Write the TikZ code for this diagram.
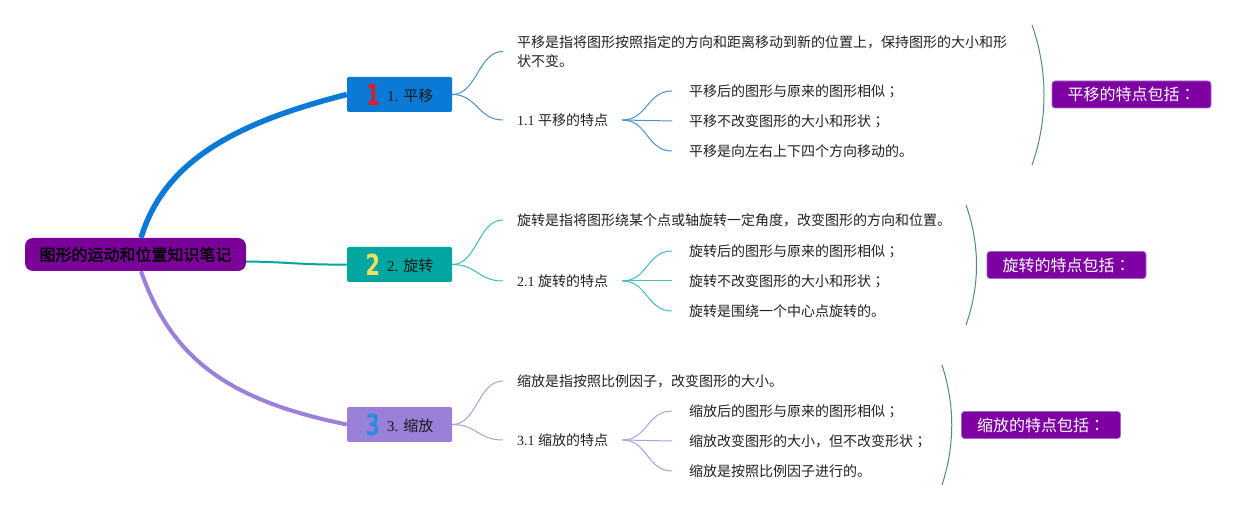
\documentclass[tikz,border=0pt]{standalone}
\usepackage{fontspec}
\setmainfont{Noto Sans CJK SC}
\newfontfamily\latserif{Liberation Serif}
\newfontfamily\rootfont[FakeBold=2]{Noto Sans CJK SC}
\newfontfamily\iconfont{DejaVu Sans}
\newfontfamily\tcpunct{Noto Sans CJK TC}
\newcommand\semi{{\tcpunct ；}}
\newcommand\colo{{\tcpunct ：}}
\definecolor{rootpurple}{HTML}{7B0099}
\definecolor{sumpurple}{HTML}{7E00A3}
\definecolor{sumedge}{HTML}{9B6CC0}
\definecolor{b1blue}{HTML}{0A7AD6}
\definecolor{b2teal}{HTML}{00A69F}
\definecolor{b3lav}{HTML}{9A80D8}
\definecolor{icon1}{HTML}{D81E2C}
\definecolor{icon2}{HTML}{F2E15A}
\definecolor{icon3}{HTML}{2E8DE0}
\definecolor{sub1}{HTML}{4A90D0}
\definecolor{sub2}{HTML}{40BDB8}
\definecolor{sub3}{HTML}{ABA0DC}
\definecolor{bracecol}{HTML}{4F8C7E}
\newcommand\bicon[2]{\raisebox{-4pt}{\color{#1}\iconfont\bfseries\fontsize{29}{29}\selectfont\scalebox{0.72}[1]{#2}}}
\begin{document}
\begin{tikzpicture}[x=1pt,y=-1pt,
  txt/.style={anchor=west,inner sep=0pt,align=left,font=\fontsize{14}{19}\selectfont,text=black!87},
  branchbox/.style={minimum width=105pt,minimum height=35pt,inner sep=0pt,rounded corners=1.5pt,font=\fontsize{15}{18}\selectfont,text=black!90},
  sumbox/.style={fill=sumpurple,draw=sumedge,line width=0.8pt,rounded corners=3pt,minimum width=159pt,minimum height=27pt,inner sep=0pt,text=white,font=\fontsize{16}{18}\selectfont},
  con/.style={line width=1pt},
  bracket/.style={draw=bracecol,line width=1pt}]
\useasboundingbox (0,0) rectangle (1256,510);
\fill[white] (0,0) rectangle (1256,510);

% root
\node[fill=rootpurple,rounded corners=8pt,minimum width=221pt,minimum height=33pt,inner sep=0pt,font={\rootfont\fontsize{16}{18}\selectfont},text=black] (root) at (135.5,254.5) {图形的运动和位置知识笔记};

% branch boxes
\node[branchbox,fill=b1blue] (b1) at (399.5,94.5) {\bicon{icon1}{1}\hspace{7pt}{\latserif 1. }平移};
\node[branchbox,fill=b2teal] (b2) at (399.5,264.5) {\bicon{icon2}{2}\hspace{7pt}{\latserif 2. }旋转};
\node[branchbox,fill=b3lav] (b3) at (399.5,424.5) {\bicon{icon3}{3}\hspace{7pt}{\latserif 3. }缩放};

% main connectors
\draw[b1blue,line width=5.5pt] ([xshift=5.5pt]root.north) .. controls (163,166) and (226,125) .. (b1.west);
\draw[b2teal,line width=2pt] ([yshift=-7pt]root.east) .. controls (290,262) and (300,265) .. (b2.west);
\draw[b3lav,line width=4pt] ([xshift=5.5pt]root.south) .. controls (171,357) and (226,400) .. (b3.west);

% branch 1
\node[txt] (d1) at (517,51.5) {平移是指将图形按照指定的方向和距离移动到新的位置上，保持图形的大小和形\\状不变。};
\node[txt] (c1) at (517,120) {{\latserif 1.1 }平移的特点};
\node[txt] (c1a) at (689,91) {平移后的图形与原来的图形相似\semi};
\node[txt] (c1b) at (689,121) {平移不改变图形的大小和形状\semi};
\node[txt] (c1c) at (689,151) {平移是向左右上下四个方向移动的。};
\draw[con,sub1] (b1.east) .. controls +(25,0) and +(-25,0) .. ([xshift=-14pt]d1.west);
\draw[con,sub1] (b1.east) .. controls +(25,0) and +(-25,0) .. ([xshift=-14pt]c1.west);
\draw[con,sub1] ([xshift=14pt]c1.east) .. controls +(25,0) and +(-25,0) .. ([xshift=-17pt]c1a.west);
\draw[con,sub1] ([xshift=14pt]c1.east) -- ([xshift=-17pt]c1b.west);
\draw[con,sub1] ([xshift=14pt]c1.east) .. controls +(25,0) and +(-25,0) .. ([xshift=-17pt]c1c.west);
\draw[bracket] (1032,25) .. controls (1048,70) and (1048,120) .. (1032,165);
\node[sumbox] (s1) at (1131.5,94.5) {平移的特点包括\colo};

% branch 2
\node[txt] (d2) at (517,220) {旋转是指将图形绕某个点或轴旋转一定角度，改变图形的方向和位置。};
\node[txt] (c2) at (517,281) {{\latserif 2.1 }旋转的特点};
\node[txt] (c2a) at (689,251) {旋转后的图形与原来的图形相似\semi};
\node[txt] (c2b) at (689,281) {旋转不改变图形的大小和形状\semi};
\node[txt] (c2c) at (689,311) {旋转是围绕一个中心点旋转的。};
\draw[con,sub2] (b2.east) .. controls +(25,0) and +(-25,0) .. ([xshift=-14pt]d2.west);
\draw[con,sub2] (b2.east) .. controls +(25,0) and +(-25,0) .. ([xshift=-14pt]c2.west);
\draw[con,sub2] ([xshift=14pt]c2.east) .. controls +(25,0) and +(-25,0) .. ([xshift=-17pt]c2a.west);
\draw[con,sub2] ([xshift=14pt]c2.east) -- ([xshift=-17pt]c2b.west);
\draw[con,sub2] ([xshift=14pt]c2.east) .. controls +(25,0) and +(-25,0) .. ([xshift=-17pt]c2c.west);
\draw[bracket] (966,205) .. controls (980,245) and (980,285) .. (966,325);
\node[sumbox] (s2) at (1066.5,265) {旋转的特点包括\colo};

% branch 3
\node[txt] (d3) at (517,381) {缩放是指按照比例因子，改变图形的大小。};
\node[txt] (c3) at (517,440) {{\latserif 3.1 }缩放的特点};
\node[txt] (c3a) at (689,411) {缩放后的图形与原来的图形相似\semi};
\node[txt] (c3b) at (689,441) {缩放改变图形的大小，但不改变形状\semi};
\node[txt] (c3c) at (689,471) {缩放是按照比例因子进行的。};
\draw[con,sub3] (b3.east) .. controls +(25,0) and +(-25,0) .. ([xshift=-14pt]d3.west);
\draw[con,sub3] (b3.east) .. controls +(25,0) and +(-25,0) .. ([xshift=-14pt]c3.west);
\draw[con,sub3] ([xshift=14pt]c3.east) .. controls +(25,0) and +(-25,0) .. ([xshift=-17pt]c3a.west);
\draw[con,sub3] ([xshift=14pt]c3.east) -- ([xshift=-17pt]c3b.west);
\draw[con,sub3] ([xshift=14pt]c3.east) .. controls +(25,0) and +(-25,0) .. ([xshift=-17pt]c3c.west);
\draw[bracket] (942,365) .. controls (955,405) and (955,445) .. (942,485);
\node[sumbox] (s3) at (1041,425) {缩放的特点包括\colo};
\end{tikzpicture}
\end{document}
